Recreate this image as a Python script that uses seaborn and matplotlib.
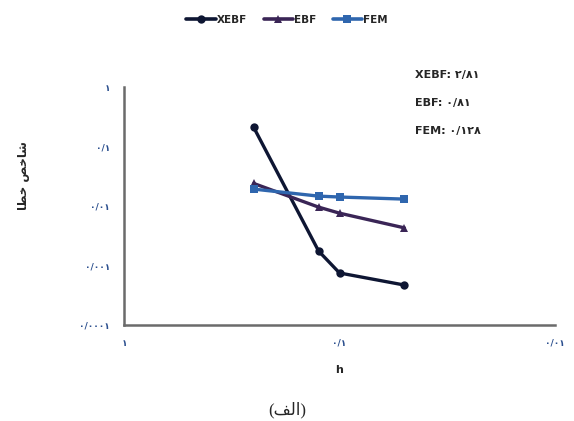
import matplotlib
matplotlib.use("Agg")
import matplotlib.pyplot as plt
import pandas as pd
import seaborn as sns

# mesh size h and error index for each method
h_values = [0.25, 0.125, 0.1, 0.05]
xebf_err = [0.21, 0.00175, 0.00075, 0.00047]
ebf_err = [0.024, 0.0096, 0.0076, 0.0043]
fem_err = [0.0193, 0.0147, 0.0142, 0.0131]
methods = ["XEBF", "EBF", "FEM"]
rates = ["۲/۸۱", "۰/۸۱", "۰/۱۲۸"]

x_ticks = [1, 0.1, 0.01]
x_tick_labels = ["۱", "۰/۱", "۰/۰۱"]
y_ticks = [1, 0.1, 0.01, 0.001, 0.0001]
y_tick_labels = ["۱", "۰/۱", "۰/۰۱", "۰/۰۰۱", "۰/۰۰۰۱"]

# Persian strings in visual (shaped, left-to-right) order
y_label = "\ufe8e\ufec4\ufea7 \ufeba\ufea7\ufe8e\ufeb7"   # شاخص خطا
caption = "(\ufed2\ufedf\ufe8d)"                            # (الف)

rows = []
for name, errs in zip(methods, [xebf_err, ebf_err, fem_err]):
    for h, e in zip(h_values, errs):
        rows.append((name, h, e))
df = pd.DataFrame(rows, columns=["method", "h", "err"])

sns.set_style("white")
plt.rcParams["font.family"] = ["DejaVu Sans"]

fig = plt.figure(figsize=(5.74, 4.21), dpi=100)
ax = fig.add_axes([0.216, 0.228, 0.751, 0.565])

palette = {"XEBF": "#0e1633", "EBF": "#3a2556", "FEM": "#2f66ae"}
sns.lineplot(data=df, x="h", y="err", hue="method", style="method",
             markers={"XEBF": "o", "EBF": "^", "FEM": "s"}, dashes=False,
             palette=palette, linewidth=2.4, markersize=6, markeredgewidth=0,
             ax=ax, legend=False)

ax.set_xscale("log")
ax.set_yscale("log")
ax.set_xlim(1, 0.01)
ax.set_ylim(0.0001, 1)
ax.set_xticks(x_ticks)
ax.set_xticklabels(x_tick_labels)
ax.set_yticks(y_ticks)
ax.set_yticklabels(y_tick_labels)
ax.minorticks_off()
ax.tick_params(axis="both", length=4, width=1.5, color="#6b6b6b",
               labelsize=6.5, labelcolor="#2b4f8e", pad=6)
for lab in ax.get_xticklabels() + ax.get_yticklabels():
    lab.set_fontweight("bold")

for side in ["top", "right"]:
    ax.spines[side].set_visible(False)
for side in ["left", "bottom"]:
    ax.spines[side].set_color("#6b6b6b")
    ax.spines[side].set_linewidth(1.8)

ax.set_xlabel("h", fontsize=8, fontweight="bold", labelpad=12)
ax.set_ylabel(y_label, fontsize=8.5, fontweight="bold")
ax.yaxis.set_label_coords(-0.218, 0.63)

# convergence rates
for i, (name, r) in enumerate(zip(methods, rates)):
    ax.text(0.675, 1.05 - i * 0.118, name + ": " + r, transform=ax.transAxes,
            fontsize=8, fontweight="bold", ha="left", va="center")

# legend on top
handles = [plt.Line2D([], [], color=palette[m], marker=mk, linewidth=2.6,
                      markersize=6, markeredgewidth=0)
           for m, mk in zip(methods, ["o", "^", "s"])]
leg = fig.legend(handles, methods, loc="center", bbox_to_anchor=(0.5, 0.953),
                 ncol=3, frameon=False, handlelength=2.8, handletextpad=0.1,
                 columnspacing=1.6, prop={"size": 7.5, "weight": "bold"})

fig.text(0.5, 0.026, caption, ha="center", va="center", fontsize=12,
         family=["Liberation Serif", "DejaVu Serif", "DejaVu Sans"])

fig.savefig("out.png", dpi=100)
